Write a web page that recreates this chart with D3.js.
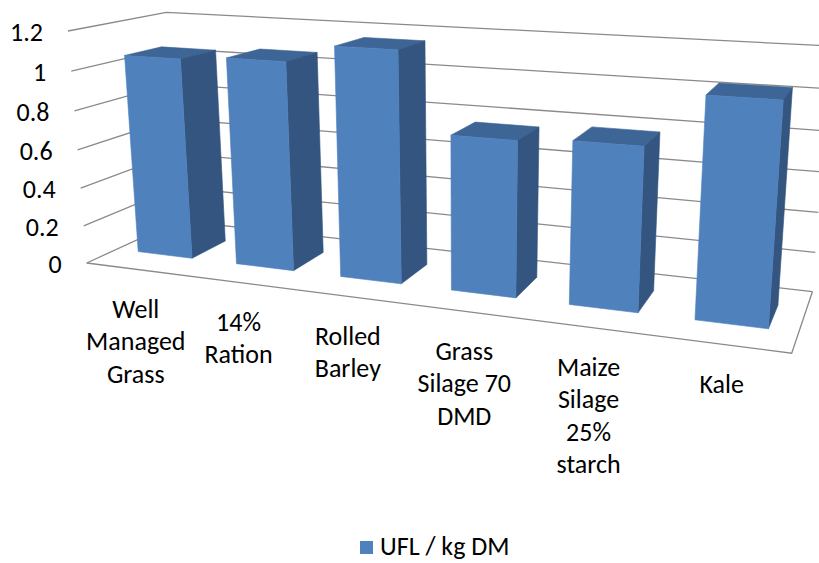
<!DOCTYPE html>
<html><head><meta charset="utf-8">
<script src="https://cdn.jsdelivr.net/npm/d3@7/dist/d3.min.js"></script>
<style>body{margin:0;background:#fff} svg{display:block}</style>
</head><body><svg id="c" width="819" height="563"></svg>
<script>
// ---- data ----
const categories = ["Well Managed Grass", "14% Ration", "Rolled Barley", "Grass Silage 70 DMD", "Maize Silage 25% starch", "Kale"];
const categoryLines = [["Well","Managed","Grass"],["14%","Ration"],["Rolled","Barley"],["Grass","Silage 70","DMD"],["Maize","Silage","25%","starch"],["Kale"]];
const values = [1.05, 1.07, 1.16, 0.77, 0.79, 1.04];
const tickValues = [0, 0.2, 0.4, 0.6, 0.8, 1, 1.2];
const tickLabels = ["0", "0.2", "0.4", "0.6", "0.8", "1", "1.2"];
const seriesName = "UFL / kg DM";

// ---- 3D perspective camera (world: X categories, Y value, Z depth) ----
const cam = {cx:491.1, cy:195.9, f:1266.6,
  o:[-0.31928,0.05298,1],
  ex:[0.94214,0.09021,-0.32286],
  ey:[0.004869,-0.96669,-0.25588],
  ez:[0.33518,-0.23950,0.91122]};
const W = 0.54636, H = 0.18317, D = 0.13;
function proj(X,Y,Z){
  const c=[0,1,2].map(i=>cam.o[i]+X*cam.ex[i]+Y*cam.ey[i]+Z*cam.ez[i]);
  return [cam.cx+cam.f*c[0]/c[2], cam.cy+cam.f*c[1]/c[2]];
}
const x = d3.scaleBand().domain(categories).range([0,W]).paddingInner(0.445).paddingOuter(0.2225);
const y = d3.scaleLinear().domain([0,1.2]).range([0,H]);
const bw = x.bandwidth();
const z0 = (D-bw)/2, z1 = z0+bw;

const svg = d3.select("#c");
const FONT = "Carlito, Calibri, Lato, 'Open Sans', sans-serif";
const line = d3.line();
const gridColor = "#8a8a8a";

// walls gridlines
svg.append("g").selectAll("path").data(tickValues).join("path")
  .attr("d", t => line([proj(0,y(t),0), proj(0,y(t),D), proj(W,y(t),D)]))
  .attr("fill","none").attr("stroke",gridColor).attr("stroke-width",1.3);
// floor outline
svg.append("path")
  .attr("d", line([proj(0,0,0), proj(W,0,0), proj(W,0,D)]))
  .attr("fill","none").attr("stroke",gridColor).attr("stroke-width",1.3);

// y labels
svg.append("g").selectAll("text").data(tickValues).join("text")
  .attr("x", t => proj(0,y(t),0)[0]-25)
  .attr("y", t => proj(0,y(t),0)[1]+1)
  .attr("text-anchor","end").attr("dominant-baseline","central")
  .attr("font-family",FONT).attr("font-size",26).attr("fill","#000")
  .text((t,i)=>tickLabels[i]);

// bars (far to near: left to right)
const colors = {front:"#4F81BD", side:"#34557F", top:"#3D6595"};
const bars = svg.append("g");
categories.forEach((cat,i)=>{
  const X0 = x(cat), X1 = X0+bw, Y1 = y(values[i]);
  const faces = [
    {k:"top", p:[[X0,Y1,z0],[X1,Y1,z0],[X1,Y1,z1],[X0,Y1,z1]]},
    {k:"side", p:[[X1,0,z0],[X1,0,z1],[X1,Y1,z1],[X1,Y1,z0]]},
    {k:"front", p:[[X0,0,z0],[X1,0,z0],[X1,Y1,z0],[X0,Y1,z0]]}
  ];
  faces.forEach(fc=>{
    bars.append("path")
      .attr("d", line(fc.p.map(q=>proj(...q)))+"Z")
      .attr("fill", colors[fc.k]).attr("stroke", colors[fc.k]).attr("stroke-width",0.6).attr("stroke-linejoin","round");
  });
});

// category labels
const lab = svg.append("g");
categories.forEach((cat,i)=>{
  const a = proj(x(cat)+bw/2, 0, 0);
  const t = lab.append("text").attr("text-anchor","middle")
    .attr("font-family",FONT).attr("font-size",26).attr("fill","#000");
  categoryLines[i].forEach((s,j)=>{
    t.append("tspan").attr("x",a[0]).attr("y",a[1]+48.5+j*32.5).text(s);
  });
});

// legend
const lg = svg.append("g");
lg.append("rect").attr("x",360).attr("y",541).attr("width",13).attr("height",13).attr("fill",colors.front);
lg.append("text").attr("x",380).attr("y",555).attr("font-family",FONT).attr("font-size",26).attr("fill","#000").text(seriesName);
</script></body></html>
